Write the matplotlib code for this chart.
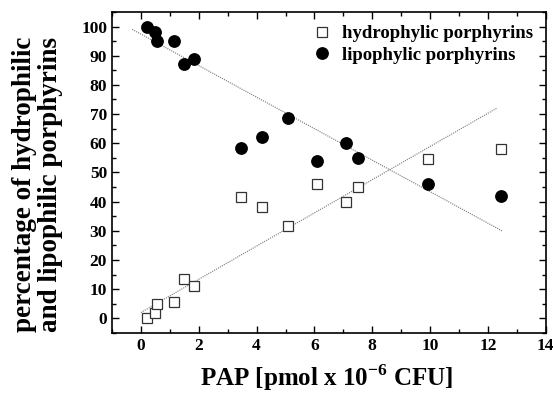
import numpy as np
import matplotlib
matplotlib.use("Agg")
import matplotlib.pyplot as plt
from matplotlib.ticker import MultipleLocator

plt.rcParams['font.family'] = ['Liberation Serif', 'DejaVu Serif']
plt.rcParams['font.weight'] = 'bold'
plt.rcParams['mathtext.fontset'] = 'custom'
plt.rcParams['mathtext.rm'] = 'Liberation Serif:bold'
plt.rcParams['mathtext.bf'] = 'Liberation Serif:bold'

# PAP values and percentages
pap = [0.2, 0.5, 0.54, 1.16, 1.48, 1.82, 3.46, 4.17, 5.08, 6.1, 7.1, 7.49, 9.93, 12.46]
hydro = [0, 2, 5, 5.5, 13.5, 11, 41.5, 38, 31.5, 46, 40, 45, 54.5, 58]
lipo = [100, 98, 95, 95, 87, 89, 58.5, 62, 68.5, 54, 60, 55, 46, 42]

# trend lines as drawn in the picture (slope, intercept) and their x range
hydro_fit = [5.69, 2.0]
lipo_fit = [-5.4, 97.4]
hydro_fit_x = [0.0, 12.3]
lipo_fit_x = [-0.3, 12.5]

fig = plt.figure(figsize=(5.53, 3.94), dpi=100)
ax = fig.add_axes([0.2025, 0.155, 0.7845, 0.8147])

xh = np.array(hydro_fit_x)
xl = np.array(lipo_fit_x)
ax.plot(xh, np.polyval(hydro_fit, xh), color='#777777', lw=0.8, ls=(0, (1, 1)))
ax.plot(xl, np.polyval(lipo_fit, xl), color='#777777', lw=0.8, ls=(0, (1, 1)))

ax.plot(pap, hydro, 's', ms=6.8, mfc='white', mec='#333333', mew=0.9,
        label='hydrophylic porphyrins')
ax.plot(pap, lipo, 'o', ms=8.2, mfc='black', mec='black',
        label='lipophylic porphyrins')

ax.set_xlim(-1, 14)
ax.set_ylim(-5, 105)
ax.xaxis.set_major_locator(MultipleLocator(2))
ax.xaxis.set_minor_locator(MultipleLocator(1))
ax.yaxis.set_major_locator(MultipleLocator(10))
ax.yaxis.set_minor_locator(MultipleLocator(5))
ax.tick_params(which='both', direction='in', top=True, right=True, labelsize=12.5)
ax.tick_params(which='major', length=5, width=1)
ax.tick_params(which='minor', length=3, width=1)
for s in ax.spines.values():
    s.set_linewidth(1.2)

ax.set_xlabel('PAP [pmol x 10$^{-6}$ CFU]', fontsize=18, fontweight='bold')
ax.set_ylabel('percentage of hydrophilic\nand lipophilic porphyrins', fontsize=19.5,
              fontweight='bold', linespacing=1.05)
ax.xaxis.set_label_coords(0.494, -0.09)
ax.yaxis.set_label_coords(-0.113, 0.4626)

leg = ax.legend(loc='upper right', frameon=False, fontsize=13.5, handletextpad=0.3,
                borderaxespad=0.3, labelspacing=0.25, handlelength=1.5)

fig.savefig('out.png', dpi=100)
